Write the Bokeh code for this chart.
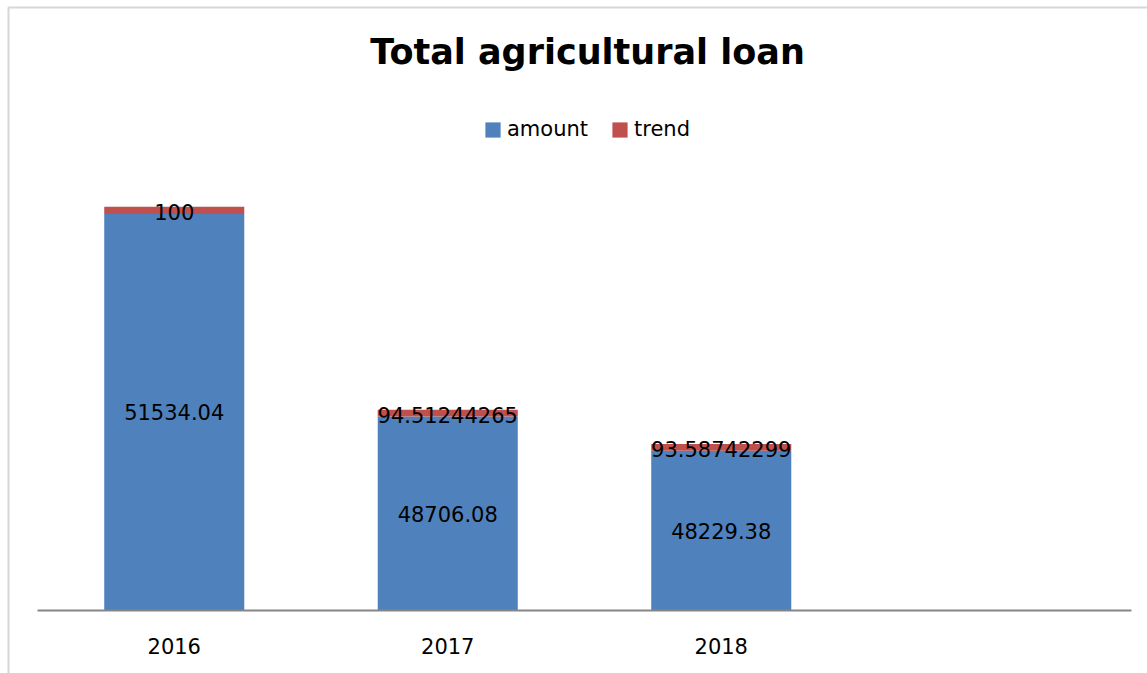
from bokeh.plotting import figure
from bokeh.models import (Range1d, Label, Legend, LegendItem, LinearAxis, FixedTicker,
                          BoxAnnotation, ColumnDataSource, LabelSet)
from bokeh.core.properties import value
from bokeh.embed import file_html
from bokeh.resources import INLINE

# ---- data ----
categories = ["2016", "2017", "2018", ""]          # last category is empty
amount = [51534.04, 48706.08, 48229.38]
trend = [100, 94.51244265, 93.58742299]
amount_labels = ["51534.04", "48706.08", "48229.38"]
trend_labels = ["100", "94.51244265", "93.58742299"]
Y_MIN, Y_MAX = 46000, 52000

# ---- layout (pixels) ----
W, H = 1147, 673
PLOT_L, PLOT_R, PLOT_T, PLOT_B = 37, 1131, 180, 610
ux = (PLOT_R - PLOT_L) / len(categories)
uy = (PLOT_B - PLOT_T) / (Y_MAX - Y_MIN)
x_start = -0.5 - PLOT_L / ux
x_end = x_start + W / ux
y_start = Y_MIN - (H - PLOT_B) / uy
y_end = Y_MIN + PLOT_B / uy

BLUE = "#4F81BD"
RED = "#C0504D"
GRAY = "#868686"
BORDER = "#7a7a7a"
FONT = "DejaVu Sans"
FS = "21px"

xs = list(range(len(amount)))
src = ColumnDataSource(dict(
    x=xs,
    base=[Y_MIN] * len(amount),
    amount=amount,
    top=[a + t for a, t in zip(amount, trend)],
    amount_mid=[(Y_MIN + a) / 2 for a in amount],
    trend_mid=[a + t / 2 for a, t in zip(amount, trend)],
    amount_text=amount_labels,
    trend_text=trend_labels,
))

p = figure(width=W, height=H,
           x_range=Range1d(x_start, x_end),
           y_range=Range1d(y_start, y_end),
           x_axis_location=None, y_axis_location=None,
           output_backend="svg", toolbar_location=None,
           min_border=0)

p.outline_line_color = None
p.xgrid.grid_line_color = None
p.ygrid.grid_line_color = None
p.background_fill_color = "white"
p.border_fill_color = "white"

r_amount = p.vbar(x="x", bottom="base", top="amount", width=0.512,
                  color=BLUE, line_color=None, source=src)
r_trend = p.vbar(x="x", bottom="amount", top="top", width=0.512,
                 color=RED, line_color=None, source=src)

p.add_layout(LabelSet(x="x", y="amount_mid", text="amount_text", source=src,
                      text_align="center", text_baseline="middle",
                      text_font=value(FONT), text_font_size=FS,
                      text_color="black"))
p.add_layout(LabelSet(x="x", y="trend_mid", text="trend_text", source=src,
                      text_align="center", text_baseline="middle",
                      text_font=value(FONT), text_font_size=FS,
                      text_color="black", y_offset=-2))

ax = LinearAxis(fixed_location=Y_MIN, bounds=(-0.5, len(categories) - 0.5),
                ticker=FixedTicker(ticks=xs),
                major_label_overrides={i: c for i, c in enumerate(categories)})
ax.axis_line_color = GRAY
ax.axis_line_width = 2
ax.major_tick_line_color = None
ax.minor_tick_line_color = None
ax.major_tick_out = 0
ax.major_tick_in = 0
ax.major_label_standoff = 27
ax.major_label_text_font = FONT
ax.major_label_text_font_size = FS
ax.major_label_text_color = "black"
p.add_layout(ax, "below")

# title
p.add_layout(Label(x=587, y=H - 51, x_units="screen", y_units="screen",
                   text="Total agricultural loan", text_align="center",
                   text_baseline="middle", text_font=FONT,
                   text_font_size="35px", text_font_style="bold",
                   text_color="black"))

legend = Legend(items=[LegendItem(label="amount", renderers=[r_amount]),
                       LegendItem(label="trend", renderers=[r_trend])],
                orientation="horizontal", location=(483, H - 141),
                label_text_font=FONT, label_text_font_size=FS,
                label_text_color="black",
                glyph_width=19, glyph_height=19, label_standoff=5,
                spacing=22, padding=0, margin=0,
                border_line_color=None, background_fill_alpha=0)
p.add_layout(legend, "center")

# chart-area border (left and top edges visible)
p.add_layout(BoxAnnotation(left=8, right=3000, top=7, bottom=3000,
                           left_units="canvas", right_units="canvas",
                           top_units="canvas", bottom_units="canvas",
                           fill_color=None, fill_alpha=0,
                           line_color=BORDER, line_width=2))

open("out.html", "w").write(file_html(p, INLINE))
